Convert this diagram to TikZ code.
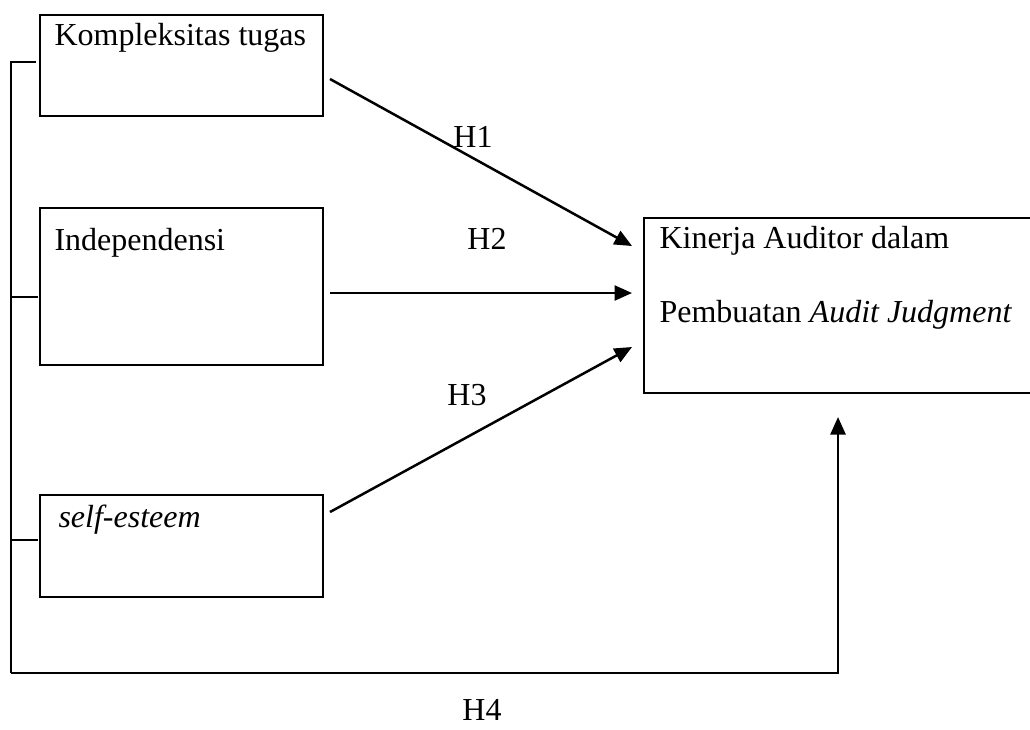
\documentclass[tikz,border=0pt]{standalone}
\usepackage{fontspec}
\setmainfont{Liberation Serif}
\usetikzlibrary{arrows.meta}
\begin{document}
\begin{tikzpicture}[x=0.4pt,y=-0.4pt,
  boxst/.style={draw,line width=1.1pt,rectangle,inner sep=0pt},
  txt/.style={anchor=base west,inner sep=0pt,font=\fontsize{12.8}{15}\selectfont},
  lbl/.style={anchor=base,inner sep=0pt,font=\fontsize{12.8}{15}\selectfont},
  conn/.style={line width=1pt},
  arr/.style={line width=1pt,-{Triangle[length=7pt,width=6pt]}}]
\useasboundingbox (0,0) rectangle (1030,729);
\clip (0,0) rectangle (1030,729);
% boxes
\node[boxst,minimum width=113.2pt,minimum height=40.4pt] (b1) at (181.5,65.5) {};
\node[boxst,minimum width=113.2pt,minimum height=62.8pt] (b2) at (181.5,286.5) {};
\node[boxst,minimum width=113.2pt,minimum height=40.8pt] (b3) at (181.5,546) {};
\node[boxst,minimum width=158.4pt,minimum height=70pt] (y) at (842,305.5) {};
% texts
\node[txt] (t1) at (54,45) {Kompleksitas tugas};
\node[txt] (t2) at (54,250) {Independensi};
\node[txt] (t3) at (58,527) {\itshape self-esteem};
\node[txt] (ty1) at (659,248) {Kinerja Auditor dalam};
\node[txt] (ty2) at (659,322) {Pembuatan \textit{Audit Judgment}};
% labels
\node[lbl] (h1) at (473,147) {H1};
\node[lbl] (h2) at (487,249) {H2};
\node[lbl] (h3) at (467,405) {H3};
\node[lbl] (h4) at (482,720) {H4};
% endpoints
\coordinate (s1) at (330,79);
\coordinate (e1) at (632,246);
\coordinate (s2) at (330,293);
\coordinate (e2) at (632,293);
\coordinate (s3) at (330,512);
\coordinate (e3) at (632,347);
\coordinate (ltop) at (11,62);
\coordinate (k1) at (36,62);
\coordinate (lm) at (11,297);
\coordinate (k2) at (38,297);
\coordinate (lb) at (11,540);
\coordinate (k3) at (38,540);
\coordinate (lbot) at (11,673);
\coordinate (rb) at (838,673);
\coordinate (e4) at (838,417);
% arrows
\draw[arr] (s1) -- (e1);
\draw[arr] (s2) -- (e2);
\draw[arr] (s3) -- (e3);
\draw[conn] (k1) -- (ltop) -- (lbot);
\draw[conn] (lm) -- (k2);
\draw[conn] (lb) -- (k3);
\draw[arr] (lbot) -- (rb) -- (e4);
\end{tikzpicture}
\end{document}
